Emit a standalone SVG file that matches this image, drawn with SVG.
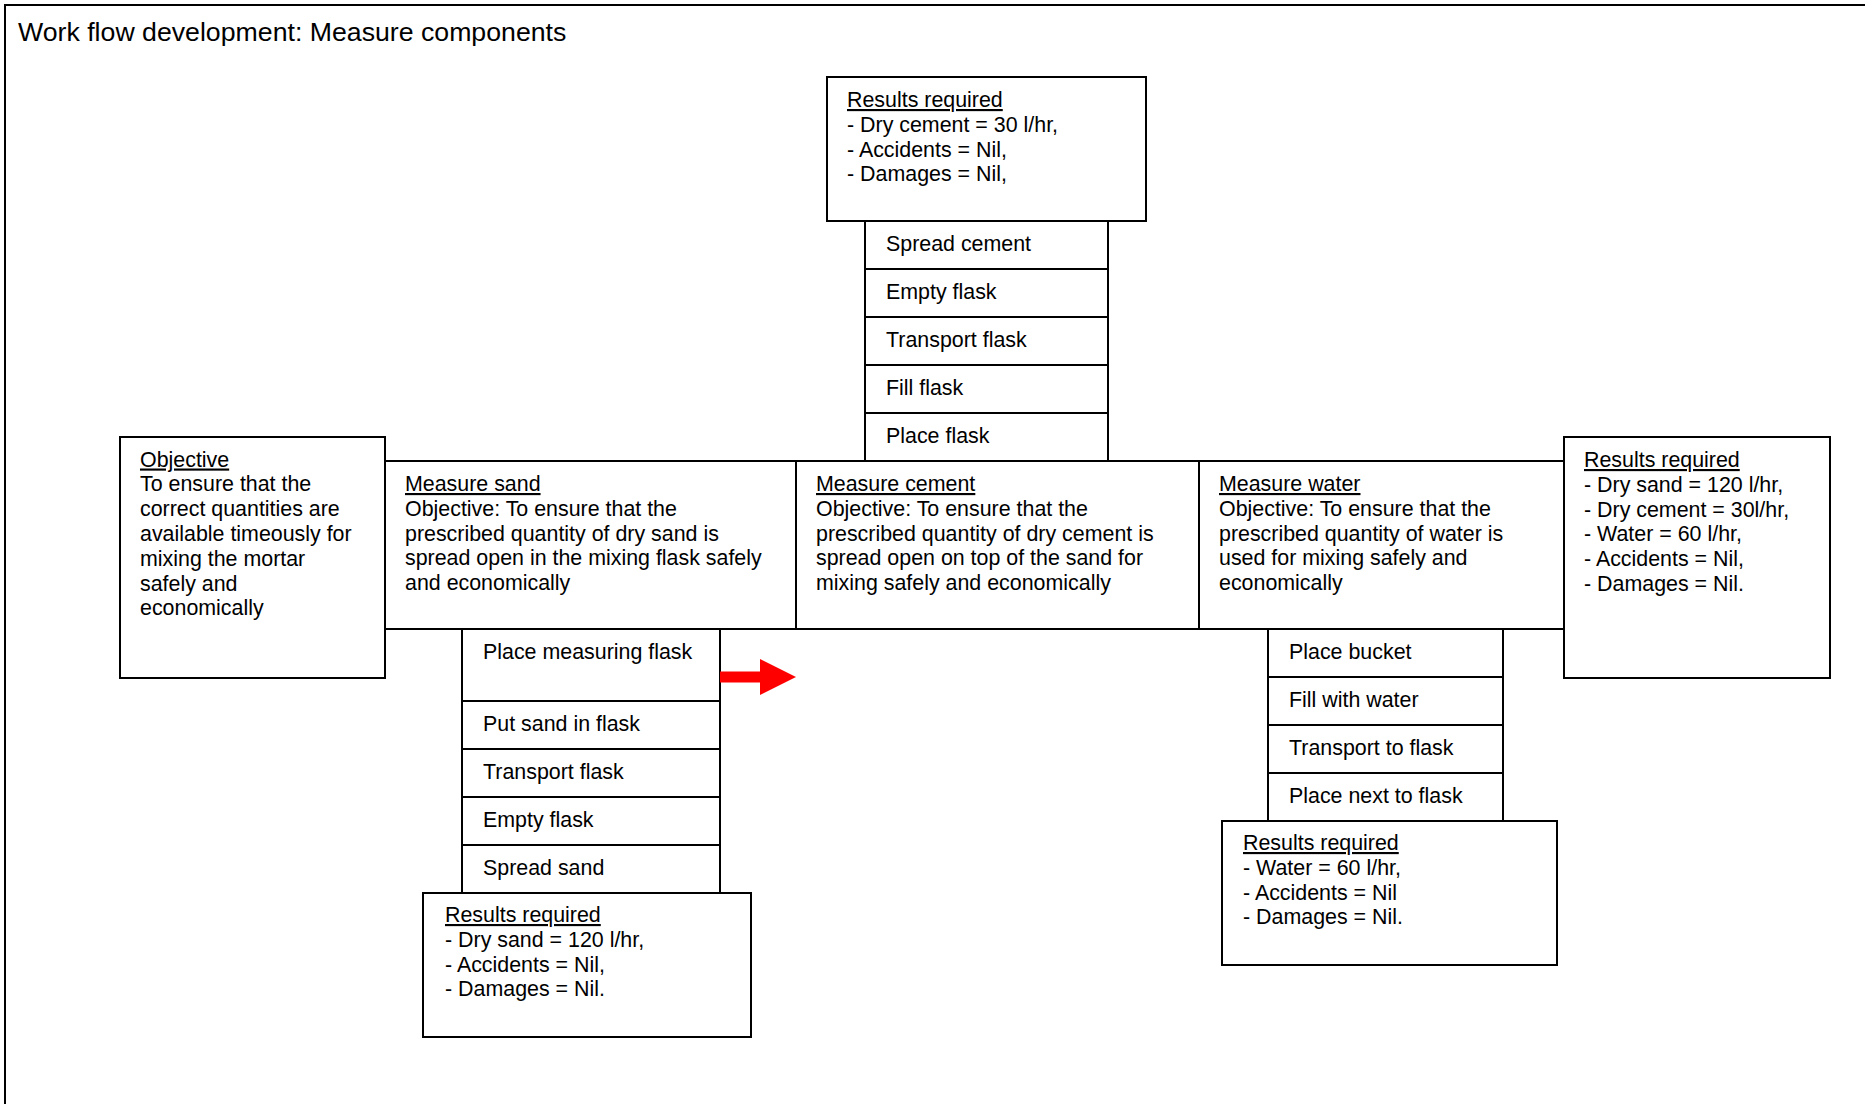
<svg xmlns="http://www.w3.org/2000/svg" width="1865" height="1104" viewBox="0 0 1865 1104">
<style>
  text { font-family: "Liberation Sans", Arial, sans-serif; font-size: 21.4px; fill: #000; }
  .title { font-size: 26.7px; }
  .box { fill: #fff; stroke: #000; stroke-width: 2; }
  .u { text-decoration: underline; }
  .frame { fill: none; stroke: #000; stroke-width: 2; }
  .arrow { fill: #ff0000; stroke: none; }
</style>
<rect x="0" y="0" width="1865" height="1104" fill="#fff"/>
<path class="frame" d="M5,1104 V5 H1865"/>
<text class="title" x="18" y="41">Work flow development: Measure components</text>

<g id="results-cement">
  <rect class="box" x="827" y="77" width="319" height="144"/>
  <text x="847" y="107"><tspan class="u">Results required</tspan><tspan x="847" y="131.8">- Dry cement = 30 l/hr,</tspan><tspan x="847" y="156.6">- Accidents = Nil,</tspan><tspan x="847" y="181.4">- Damages = Nil,</tspan></text>
</g>

<g id="cement-tasks">
  <rect class="box" x="865" y="221" width="243" height="48"/>
  <text x="886" y="251">Spread cement</text>
  <rect class="box" x="865" y="269" width="243" height="48"/>
  <text x="886" y="299">Empty flask</text>
  <rect class="box" x="865" y="317" width="243" height="48"/>
  <text x="886" y="347">Transport flask</text>
  <rect class="box" x="865" y="365" width="243" height="48"/>
  <text x="886" y="395">Fill flask</text>
  <rect class="box" x="865" y="413" width="243" height="48"/>
  <text x="886" y="443">Place flask</text>
</g>

<g id="objective">
  <rect class="box" x="120" y="437" width="265" height="241"/>
  <text x="140" y="466.5"><tspan class="u">Objective</tspan><tspan x="140" y="491.3">To ensure that the</tspan><tspan x="140" y="516.1">correct quantities are</tspan><tspan x="140" y="540.9">available timeously for</tspan><tspan x="140" y="565.7">mixing the mortar</tspan><tspan x="140" y="590.5">safely and</tspan><tspan x="140" y="615.3">economically</tspan></text>
</g>

<g id="measure-sand">
  <rect class="box" x="385" y="461" width="411" height="168"/>
  <text x="405" y="491"><tspan class="u">Measure sand</tspan><tspan x="405" y="515.8">Objective: To ensure that the</tspan><tspan x="405" y="540.6">prescribed quantity of dry sand is</tspan><tspan x="405" y="565.4">spread open in the mixing flask safely</tspan><tspan x="405" y="590.2">and economically</tspan></text>
</g>

<g id="measure-cement">
  <rect class="box" x="796" y="461" width="403" height="168"/>
  <text x="816" y="491"><tspan class="u">Measure cement</tspan><tspan x="816" y="515.8">Objective: To ensure that the</tspan><tspan x="816" y="540.6">prescribed quantity of dry cement is</tspan><tspan x="816" y="565.4">spread open on top of the sand for</tspan><tspan x="816" y="590.2">mixing safely and economically</tspan></text>
</g>

<g id="measure-water">
  <rect class="box" x="1199" y="461" width="365" height="168"/>
  <text x="1219" y="491"><tspan class="u">Measure water</tspan><tspan x="1219" y="515.8">Objective: To ensure that the</tspan><tspan x="1219" y="540.6">prescribed quantity of water is</tspan><tspan x="1219" y="565.4">used for mixing safely and</tspan><tspan x="1219" y="590.2">economically</tspan></text>
</g>

<g id="results-total">
  <rect class="box" x="1564" y="437" width="266" height="241"/>
  <text x="1584" y="467"><tspan class="u">Results required</tspan><tspan x="1584" y="491.8">- Dry sand = 120 l/hr,</tspan><tspan x="1584" y="516.6">- Dry cement = 30l/hr,</tspan><tspan x="1584" y="541.4">- Water = 60 l/hr,</tspan><tspan x="1584" y="566.2">- Accidents = Nil,</tspan><tspan x="1584" y="591">- Damages = Nil.</tspan></text>
</g>

<g id="sand-tasks">
  <rect class="box" x="462" y="629" width="258" height="72"/>
  <text x="483" y="659">Place measuring flask</text>
  <rect class="box" x="462" y="701" width="258" height="48"/>
  <text x="483" y="731">Put sand in flask</text>
  <rect class="box" x="462" y="749" width="258" height="48"/>
  <text x="483" y="779">Transport flask</text>
  <rect class="box" x="462" y="797" width="258" height="48"/>
  <text x="483" y="827">Empty flask</text>
  <rect class="box" x="462" y="845" width="258" height="48"/>
  <text x="483" y="875">Spread sand</text>
</g>

<g id="results-sand">
  <rect class="box" x="423" y="893" width="328" height="144"/>
  <text x="445" y="922"><tspan class="u">Results required</tspan><tspan x="445" y="946.8">- Dry sand = 120 l/hr,</tspan><tspan x="445" y="971.6">- Accidents = Nil,</tspan><tspan x="445" y="996.4">- Damages = Nil.</tspan></text>
</g>

<g id="water-tasks">
  <rect class="box" x="1268" y="629" width="235" height="48"/>
  <text x="1289" y="659">Place bucket</text>
  <rect class="box" x="1268" y="677" width="235" height="48"/>
  <text x="1289" y="707">Fill with water</text>
  <rect class="box" x="1268" y="725" width="235" height="48"/>
  <text x="1289" y="755">Transport to flask</text>
  <rect class="box" x="1268" y="773" width="235" height="48"/>
  <text x="1289" y="803">Place next to flask</text>
</g>

<g id="results-water">
  <rect class="box" x="1222" y="821" width="335" height="144"/>
  <text x="1243" y="850"><tspan class="u">Results required</tspan><tspan x="1243" y="874.8">- Water = 60 l/hr,</tspan><tspan x="1243" y="899.6">- Accidents = Nil</tspan><tspan x="1243" y="924.4">- Damages = Nil.</tspan></text>
</g>

<g id="connectors">
  <polygon class="arrow" points="720,671.5 760,671.5 760,659 796,677 760,695 760,682.5 720,682.5"/>
</g>
</svg>
